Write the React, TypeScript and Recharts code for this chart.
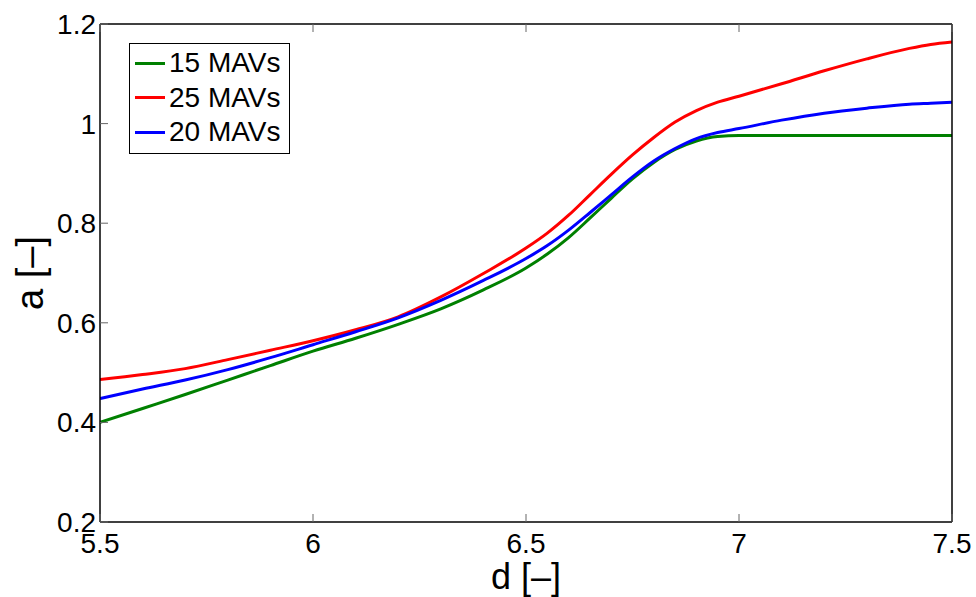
import { LineChart, Line, XAxis, YAxis } from 'recharts';

const dValues = [
  5.5, 5.6, 5.7, 5.8, 5.9, 6.0, 6.1, 6.2, 6.3, 6.4, 6.5, 6.55, 6.6, 6.65, 6.7, 6.75, 6.8, 6.85,
  6.9, 6.95, 7.0, 7.1, 7.2, 7.3, 7.4, 7.45, 7.5,
];
const mav15 = [
  0.4, 0.428, 0.456, 0.485, 0.514, 0.543, 0.569, 0.597, 0.628, 0.666, 0.71, 0.738, 0.771, 0.81,
  0.85, 0.889, 0.922, 0.948, 0.965, 0.974, 0.976, 0.976, 0.976, 0.976, 0.976, 0.976, 0.976,
];
const mav25 = [
  0.486, 0.496, 0.508, 0.526, 0.545, 0.564, 0.586, 0.612, 0.652, 0.699, 0.75, 0.78, 0.816,
  0.857, 0.898, 0.937, 0.972, 1.003, 1.026, 1.043, 1.055, 1.08, 1.106, 1.13, 1.151, 1.159, 1.164,
];
const mav20 = [
  0.448, 0.467, 0.485, 0.506, 0.53, 0.556, 0.582, 0.61, 0.645, 0.685, 0.729, 0.755, 0.786, 0.821,
  0.857, 0.893, 0.925, 0.95, 0.97, 0.982, 0.99, 1.007, 1.021, 1.031, 1.039, 1.041, 1.043,
];
const xTicks = [5.5, 6, 6.5, 7, 7.5];
const yTicks = [0.2, 0.4, 0.6, 0.8, 1, 1.2];

const legendItems = [
  { name: '15 MAVs', color: '#008000' },
  { name: '25 MAVs', color: '#ff0000' },
  { name: '20 MAVs', color: '#0000ff' },
];

const data = dValues.map((d, i) => ({ d, m15: mav15[i], m25: mav25[i], m20: mav20[i] }));

const FONT = '"Liberation Sans", Arial, Helvetica, sans-serif';
const TICK_LEN = 8;
const TICK_COLOR = '#666';

const BottomTick = ({ x, y, payload }: any) => (
  <g>
    <line x1={x} y1={y} x2={x} y2={y - TICK_LEN} stroke={TICK_COLOR} />
    <text x={x} y={y + 31} textAnchor="middle" fontSize={28} fill="#000" fontFamily={FONT}>
      {payload.value}
    </text>
  </g>
);
const TopTick = ({ x, y }: any) => (
  <line x1={x} y1={y} x2={x} y2={y + TICK_LEN} stroke={TICK_COLOR} />
);
const LeftTick = ({ x, y, payload }: any) => (
  <g>
    <line x1={x} y1={y} x2={x + TICK_LEN} y2={y} stroke={TICK_COLOR} />
    <text x={x - 4} y={y + 10} textAnchor="end" fontSize={28} fill="#000" fontFamily={FONT}>
      {payload.value}
    </text>
  </g>
);
const RightTick = ({ x, y }: any) => (
  <line x1={x} y1={y} x2={x - TICK_LEN} y2={y} stroke={TICK_COLOR} />
);

function LegendBox() {
  return (
    <div
      style={{
        position: 'absolute',
        left: 129,
        top: 43,
        border: '1px solid #000',
        background: '#fff',
        width: 161,
        padding: '2px 0 3px 0',
        fontFamily: FONT,
        fontSize: 28,
        lineHeight: '34.5px',
        boxSizing: 'border-box',
      }}
    >
      {legendItems.map(it => (
        <div key={it.name} style={{ display: 'flex', alignItems: 'center' }}>
          <span
            style={{ display: 'inline-block', width: 30, height: 3, background: it.color, margin: '0 4px 0 5px' }}
          />
          <span>{it.name}</span>
        </div>
      ))}
    </div>
  );
}

export default function App() {
  return (
    <div style={{ position: 'absolute', left: 0, top: 0, width: 976, height: 597, background: '#fff' }}>
      <LineChart width={976} height={597} data={data} margin={{ top: 0, right: 0, left: 0, bottom: 0 }}>
        <XAxis
          dataKey="d"
          type="number"
          domain={[5.5, 7.5]}
          ticks={xTicks}
          allowDataOverflow
          height={75}
          tickSize={0}
          tickMargin={0}
          tickLine={false}
          axisLine={{ stroke: '#000', strokeWidth: 1.5 }}
          tick={<BottomTick />}
          label={{
            value: 'd [–]',
            position: 'insideBottom',
            offset: 8,
            fontSize: 36,
            fill: '#000',
            fontFamily: FONT,
          }}
        />
        <XAxis
          xAxisId="top"
          orientation="top"
          dataKey="d"
          type="number"
          domain={[5.5, 7.5]}
          ticks={xTicks}
          height={24}
          tickSize={0}
          tickMargin={0}
          tickLine={false}
          axisLine={{ stroke: '#000', strokeWidth: 1.5 }}
          tick={<TopTick />}
        />
        <YAxis
          type="number"
          domain={[0.2, 1.2]}
          ticks={yTicks}
          allowDataOverflow
          width={100}
          tickSize={0}
          tickMargin={0}
          tickLine={false}
          axisLine={{ stroke: '#000', strokeWidth: 1.5 }}
          tick={<LeftTick />}
          label={{
            value: 'a [–]',
            angle: -90,
            position: 'insideLeft',
            offset: 30,
            style: { textAnchor: 'middle' },
            fontSize: 38,
            fill: '#000',
            fontFamily: FONT,
          }}
        />
        <YAxis
          yAxisId="right"
          orientation="right"
          type="number"
          domain={[0.2, 1.2]}
          ticks={yTicks}
          width={24}
          tickSize={0}
          tickMargin={0}
          tickLine={false}
          axisLine={{ stroke: '#000', strokeWidth: 1.5 }}
          tick={<RightTick />}
        />
        <Line type="monotone" dataKey="m15" name="15 MAVs" stroke="#008000" strokeWidth={3} dot={false} isAnimationActive={false} />
        <Line type="monotone" dataKey="m25" name="25 MAVs" stroke="#ff0000" strokeWidth={3} dot={false} isAnimationActive={false} />
        <Line type="monotone" dataKey="m20" name="20 MAVs" stroke="#0000ff" strokeWidth={3} dot={false} isAnimationActive={false} />
      </LineChart>
      <LegendBox />
    </div>
  );
}
